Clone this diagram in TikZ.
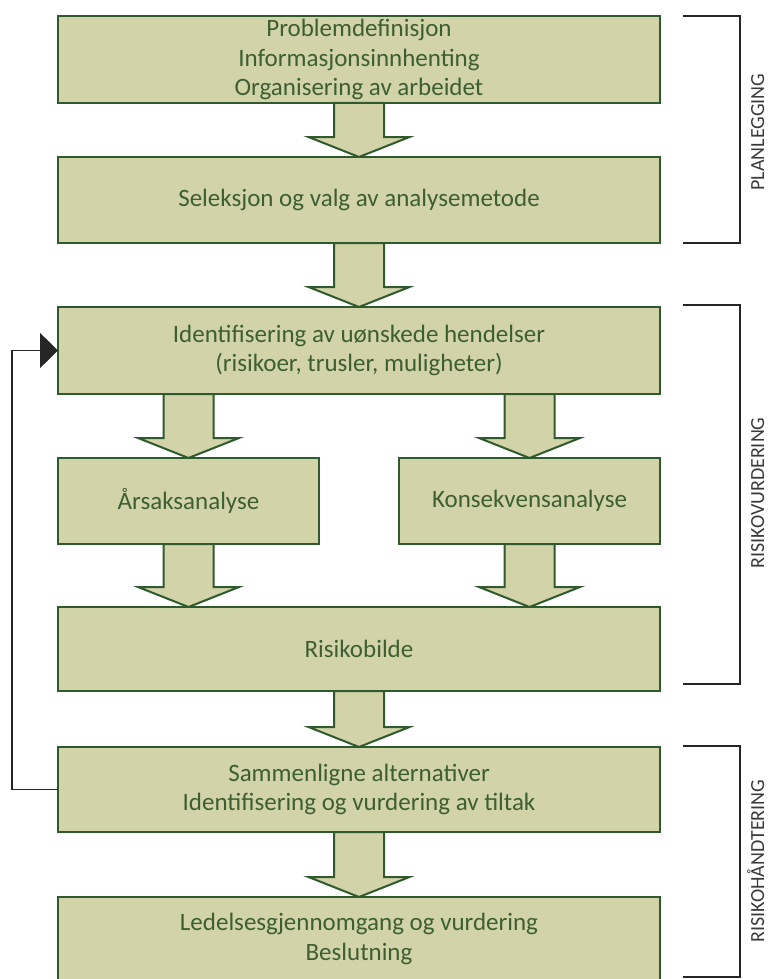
\documentclass[tikz,border=0pt]{standalone}
\usepackage{fontspec}
\setmainfont{Carlito}
\usetikzlibrary{arrows.meta,calc}

\definecolor{boxfill}{HTML}{D3D3A9}
\definecolor{boxline}{HTML}{2E5A2E}
\definecolor{boxtext}{HTML}{3C5F32}
\definecolor{phasetext}{HTML}{3A3A3A}

\tikzset{
  stagebox/.style={draw=boxline, fill=boxfill, line width=2pt, rectangle,
    inner sep=0pt, outer sep=0pt, align=center, text=boxtext,
    font=\fontsize{25}{29.3}\selectfont, minimum width=602pt},
  halfbox/.style={stagebox, minimum width=261pt},
  blockarrow/.style={draw=boxline, fill=boxfill, line width=2pt, line join=miter},
  phasebracket/.style={draw=black!85, line width=1.8pt},
  phaselabel/.style={rotate=90, text=phasetext, font=\fontsize{20}{24}\selectfont,
    inner sep=0pt, text height=13pt, text depth=0pt},
  feedback/.style={draw=black!85, line width=1.6pt,
    -{Triangle[length=18pt,width=35pt]}}
}

% wide block arrow from the start point down to the tip point
\newcommand{\blockarrow}[2]{%
  \path[blockarrow] let \p1=#1, \p2=#2 in
    ({\x1-25pt},\y1) -- ({\x1+25pt},\y1) -- ({\x1+25pt},{\y2+20pt})
    -- ({\x1+50.5pt},{\y2+20pt}) -- (\x1,\y2) -- ({\x1-50.5pt},{\y2+20pt})
    -- ({\x1-25pt},{\y2+20pt}) -- cycle;}

\begin{document}
\begin{tikzpicture}[x=1pt,y=-1pt]
\useasboundingbox[fill=white] (0,0) rectangle (768,979);

% process stages
\node[stagebox, minimum height=87pt] (B1) at (359,59.5)
  {Problemdefinisjon\\Informasjonsinnhenting\\Organisering av arbeidet};
\node[stagebox, minimum height=86pt] (B2) at (359,200)
  {Seleksjon og valg av analysemetode};
\node[stagebox, minimum height=87pt] (B3) at (359,350.5)
  {Identifisering av uønskede hendelser\\(risikoer, trusler, muligheter)};
\node[halfbox, minimum height=86pt] (B4) at (188.5,501) {Årsaksanalyse};
\node[halfbox, minimum height=86pt] (B5) at (529.5,501) {Konsekvensanalyse};
\node[stagebox, minimum height=84pt] (B6) at (359,649) {Risikobilde};
\node[stagebox, minimum height=85pt] (B7) at (359,789.5)
  {Sammenligne alternativer\\Identifisering og vurdering av tiltak};
\node[stagebox, minimum height=84pt] (B8) at (359,939)
  {Ledelsesgjennomgang og vurdering\\Beslutning};

% flow between stages
\blockarrow{(B1.south)}{(B2.north)}
\blockarrow{(B2.south)}{(B3.north)}
\blockarrow{(B3.south -| B4.north)}{(B4.north)}
\blockarrow{(B3.south -| B5.north)}{(B5.north)}
\blockarrow{(B4.south)}{(B4.south |- B6.north)}
\blockarrow{(B5.south)}{(B5.south |- B6.north)}
\blockarrow{(B6.south)}{(B7.north)}
\blockarrow{(B7.south)}{(B8.north)}

% loop back from the measures to the identification step
\draw[feedback] (B7.west) -- ++(-46,0) |- (B3.west);

% phase brackets
\draw[phasebracket] (683,16) -- (740,16) -- (740,243) -- (683,243);
\draw[phasebracket] (683,305) -- (740,305) -- (740,684) -- (683,684);
\draw[phasebracket] (683,746) -- (740,746) -- (740,977) -- (683,977);

\node[phaselabel] (P1) at (757.5,132) {PLANLEGGING};
\node[phaselabel] (P2) at (757.5,493) {RISIKOVURDERING};
\node[phaselabel] (P3) at (757.5,861) {RISIKOHÅNDTERING};
\end{tikzpicture}
\end{document}
